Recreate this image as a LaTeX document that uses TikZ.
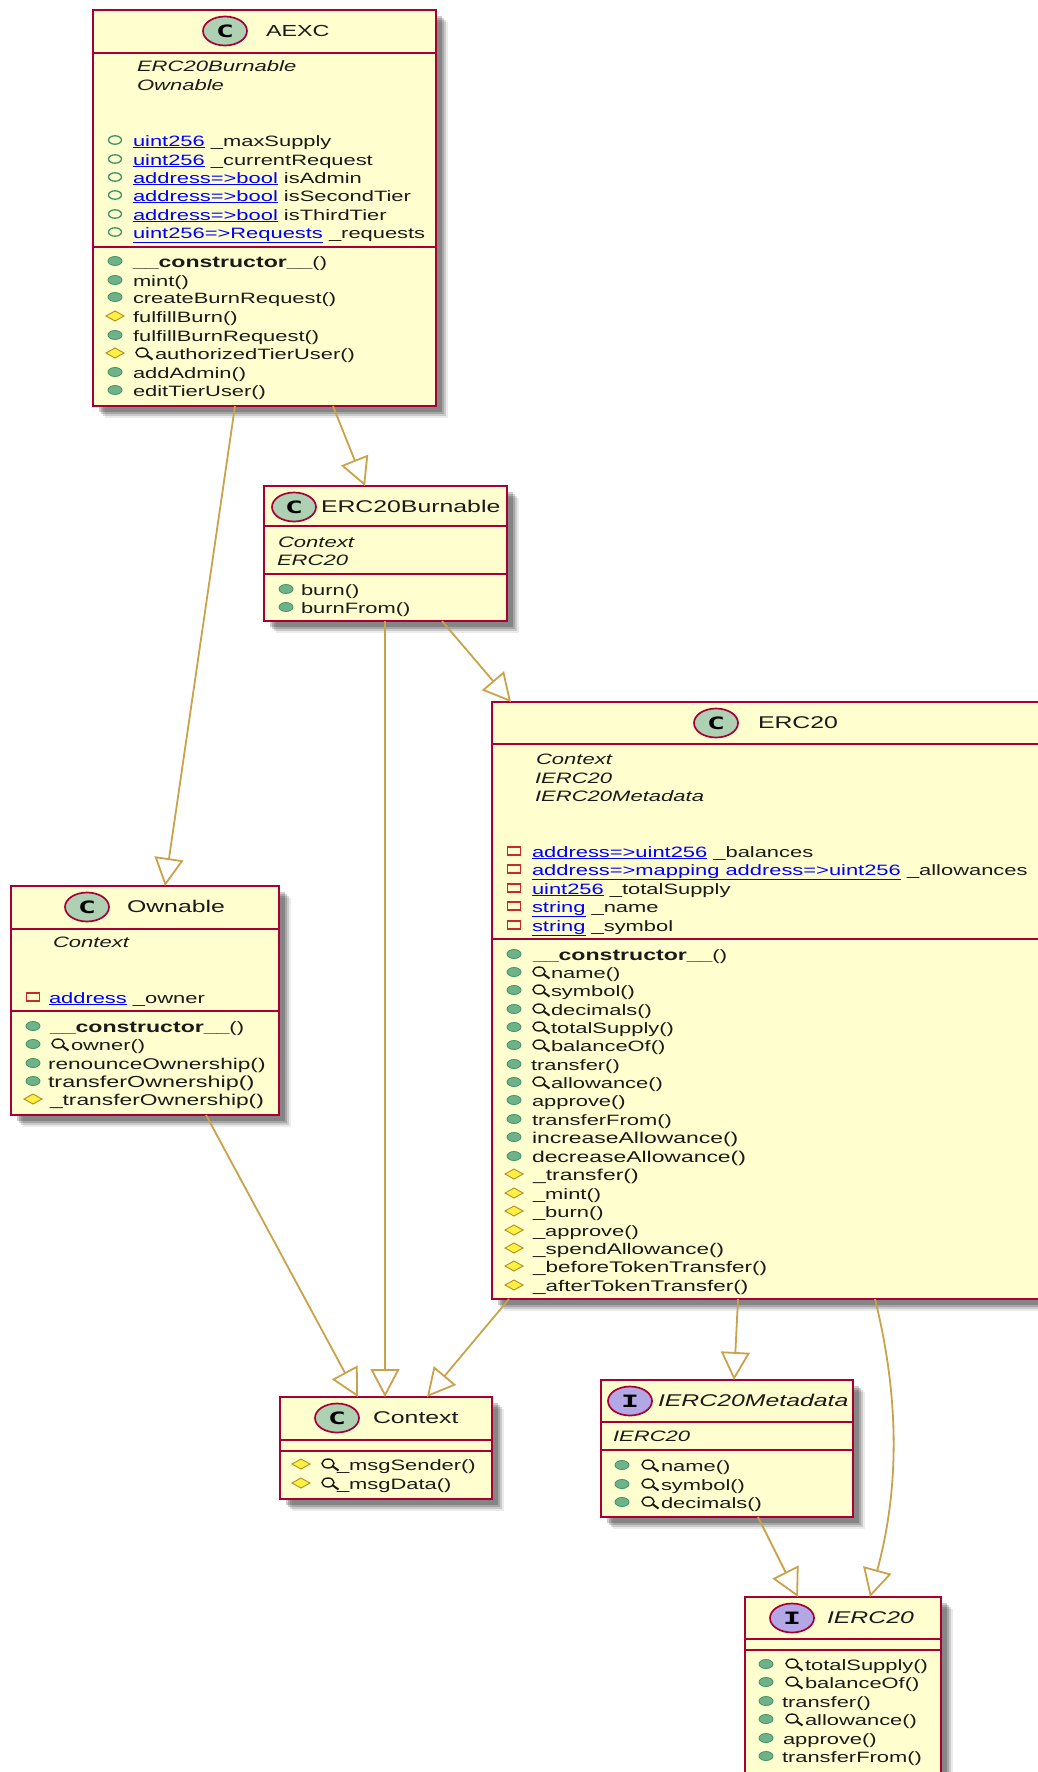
\documentclass[tikz,border=0pt]{standalone}
\usepackage{fontspec}
\setmainfont[FakeStretch=1.46]{Liberation Sans}
\newfontfamily\spotfont[FakeStretch=1.75]{DejaVu Sans Mono}
\usetikzlibrary{arrows.meta,shapes.geometric,shadows}
\definecolor{boxfill}{HTML}{FEFECE}
\definecolor{boxline}{HTML}{A80036}
\definecolor{conn}{HTML}{C9A24A}
\definecolor{spotc}{HTML}{ADD1B2}
\definecolor{spoti}{HTML}{B4A7E5}
\definecolor{pubf}{HTML}{6FB28A}
\definecolor{pubd}{HTML}{3C9468}
\definecolor{privd}{HTML}{C82930}
\definecolor{protf}{HTML}{FFF044}
\definecolor{protd}{HTML}{B38D22}
\definecolor{lnk}{HTML}{0000FF}
\definecolor{ink}{HTML}{1A1A1A}
\newcounter{tn}
\tikzset{
  classbox/.style={rectangle,draw=boxline,fill=boxfill,line width=2.6pt,inner sep=0,outer sep=0,anchor=north west,
    general shadow={shadow xshift=12pt,shadow yshift=-12pt,fill=black,opacity=.08},
    general shadow={shadow xshift=10pt,shadow yshift=-10pt,fill=black,opacity=.14},
    general shadow={shadow xshift=8pt,shadow yshift=-8pt,fill=black,opacity=.18},
    general shadow={shadow xshift=6pt,shadow yshift=-6pt,fill=black,opacity=.2}},
  divider/.style={draw=boxline,line width=1.9pt},
  txt/.style={anchor=base west,inner sep=0,outer sep=0,text=ink,font=\fontsize{15}{18}\selectfont},
  ititle/.style={txt,font=\fontsize{17}{18}\selectfont\itshape},
  ttl/.style={txt,font=\fontsize{17}{18}\selectfont},
  itl/.style={txt,font=\fontsize{15.1}{18}\selectfont\itshape},
  spot/.style={ellipse,draw=boxline,line width=1.7pt,minimum width=44pt,minimum height=29pt,inner sep=0,outer sep=0,text=black,font=\fontsize{17}{17}\spotfont\bfseries},
  inh/.style={draw=conn,line width=1.8pt,-{Triangle[length=28pt,width=29pt,fill=white,line width=1.8pt]}},
}
\newcommand{\mT}[4][txt]{\stepcounter{tn}\node[#1] (t\thetn) at (#2,#3+5) {#4};}
\newcommand{\lk}[1]{{\color{lnk}\underline{#1}}}
\newcommand{\bd}[1]{{\fontsize{15.8}{18}\selectfont\bfseries #1}}
\newcommand{\fz}[2]{{\fontsize{#1}{18}\selectfont #2}}
\newcommand{\ipub}[2]{\draw[draw=pubd,fill=pubf,line width=.8pt] (#1,#2-1) ellipse [x radius=7,y radius=4.5];}
\newcommand{\ifld}[2]{\draw[draw=pubd,fill=boxfill,line width=1.3pt] (#1,#2-1) ellipse [x radius=6.5,y radius=4.2];}
\newcommand{\ipriv}[2]{\draw[draw=privd,fill=boxfill,line width=1.3pt] (#1-6.5,#2-5) rectangle (#1+6.5,#2+3);}
\newcommand{\iprot}[2]{\draw[draw=protd,fill=protf,line width=.9pt] (#1-9,#2-1) -- (#1,#2-6) -- (#1+9,#2-1) -- (#1,#2+4) -- cycle;}
\newcommand{\imag}[2]{\draw[draw=ink,line width=1.4pt] (#1-2,#2-1.5) ellipse [x radius=6,y radius=4.5];\draw[draw=ink,line width=2pt] (#1+3,#2+1.5) -- (#1+8.5,#2+5.5);}
\newcommand{\mM}[4]{\ipub{#1}{#3}\mT{#2}{#3}{#4}}
\newcommand{\mQ}[5]{\ipub{#1}{#4}\imag{#2}{#4}\mT{#3}{#4}{#5}}
\newcommand{\mP}[4]{\iprot{#1}{#3}\mT{#2}{#3}{#4}}
\newcommand{\mPq}[5]{\iprot{#1}{#4}\imag{#2}{#4}\mT{#3}{#4}{#5}}
\newcommand{\mF}[4]{\ifld{#1}{#3}\mT{#2}{#3}{#4}}
\newcommand{\mR}[4]{\ipriv{#1}{#3}\mT{#2}{#3}{#4}}
\newcommand{\mDiv}[2]{\draw[divider] (#1.west |- 0,#2) -- (#1.east |- 0,#2);}
\begin{document}
\begin{tikzpicture}[x=1pt,y=-1pt]
\useasboundingbox (0,0) rectangle (1038,1772);
% ---------- AEXC
\node[classbox,minimum width=343pt,minimum height=396pt] (aexc) at (93,10) {};
\mDiv{aexc}{53}\mDiv{aexc}{247}
\node[spot,fill=spotc] (aexcs) at (225,31) {C};
\mT[ttl]{266}{31}{\fontsize{16}{18}\selectfont AEXC}
\mT[itl]{137}{66}{ERC20Burnable}
\mT[itl]{137}{85}{Ownable}
\mF{115}{133}{141}{\lk{uint256} \_maxSupply}
\mF{115}{133}{160}{\lk{uint256} \_currentRequest}
\mF{115}{133}{178}{\lk{address=>bool} isAdmin}
\mF{115}{133}{196}{\lk{address=>bool} isSecondTier}
\mF{115}{133}{215}{\lk{address=>bool} isThirdTier}
\mF{115}{133}{233}{\lk{uint256=>Requests} \_requests}
\mM{115}{133}{262}{\bd{\_\_constructor\_\_}()}
\mM{115}{133}{281}{mint()}
\mM{115}{133}{298}{createBurnRequest()}
\mP{115}{133}{317}{fulfillBurn()}
\mM{115}{133}{336}{fulfillBurnRequest()}
\mPq{115}{144}{155}{354}{authorizedTierUser()}
\mM{115}{133}{373}{addAdmin()}
\mM{115}{133}{391}{editTierUser()}
% ---------- ERC20Burnable
\node[classbox,minimum width=243pt,minimum height=135pt] (burn) at (264,486) {};
\mDiv{burn}{526}\mDiv{burn}{574}
\node[spot,fill=spotc] (burns) at (294,507) {C};
\mT[ttl]{321}{507}{ERC20Burnable}
\mT[itl]{278}{542}{Context}
\mT[itl]{277}{560}{ERC20}
\mM{286}{301}{590}{burn()}
\mM{286}{301}{608}{burnFrom()}
% ---------- ERC20
\node[classbox,minimum width=550pt,minimum height=597pt] (erc) at (492,702) {};
\mDiv{erc}{744}\mDiv{erc}{939}
\node[spot,fill=spotc] (ercs) at (716,723) {C};
\mT[ttl]{758}{723}{ERC20}
\mT[itl]{536}{759}{Context}
\mT[itl]{535}{778}{IERC20}
\mT[itl]{535}{796}{IERC20Metadata}
\mR{514}{532}{852}{\lk{address=>uint256} \_balances}
\mR{514}{532}{870}{\lk{address=>mapping address=>uint256} \_allowances}
\mR{514}{532}{889}{\lk{uint256} \_totalSupply}
\mR{514}{532}{907}{\lk{string} \_name}
\mR{514}{532}{926}{\lk{string} \_symbol}
\mM{514}{533}{955}{\bd{\_\_constructor\_\_}()}
\mQ{514}{541}{551}{973}{name()}
\mQ{514}{541}{551}{991}{symbol()}
\mQ{514}{541}{551}{1010}{decimals()}
\mQ{514}{541}{551}{1028}{totalSupply()}
\mQ{514}{541}{551}{1046}{balanceOf()}
\mM{514}{531}{1065}{transfer()}
\mQ{514}{541}{551}{1083}{allowance()}
\mM{514}{532}{1101}{approve()}
\mM{514}{532}{1120}{transferFrom()}
\mM{514}{532}{1138}{\fz{15.7}{increaseAllowance()}}
\mM{514}{532}{1157}{\fz{15.7}{decreaseAllowance()}}
\mP{514}{533}{1175}{\fz{15.7}{\_transfer()}}
\mP{514}{533}{1194}{\_mint()}
\mP{514}{533}{1212}{\_burn()}
\mP{514}{533}{1231}{\_approve()}
\mP{514}{533}{1249}{\fz{15.4}{\_spendAllowance()}}
\mP{514}{533}{1267}{\fz{15.4}{\_beforeTokenTransfer()}}
\mP{514}{533}{1286}{\fz{15.4}{\_afterTokenTransfer()}}
% ---------- Ownable
\node[classbox,minimum width=268pt,minimum height=229pt] (own) at (11,886) {};
\mDiv{own}{929}\mDiv{own}{1011}
\node[spot,fill=spotc] (owns) at (87,907) {C};
\mT[ttl]{127}{907}{Ownable}
\mT[itl]{53}{942}{Context}
\mR{33}{49}{998}{\lk{address} \_owner}
\mM{33}{50}{1027}{\bd{\_\_constructor\_\_}()}
\mQ{33}{60}{71}{1045}{owner()}
\mM{33}{48}{1064}{\fz{15.5}{renounceOwnership()}}
\mM{33}{48}{1082}{\fz{16}{transferOwnership()}}
\mP{33}{50}{1100}{\fz{15.6}{\_transferOwnership()}}
% ---------- Context
\node[classbox,minimum width=212pt,minimum height=102pt] (ctx) at (280,1397) {};
\mDiv{ctx}{1440}\mDiv{ctx}{1451}
\node[spot,fill=spotc] (ctxs) at (337,1418) {C};
\mT[ttl]{373}{1418}{Context}
\mPq{301}{330}{337}{1465}{\_msgSender()}
\mPq{301}{330}{337}{1484}{\_msgData()}
% ---------- IERC20Metadata
\node[classbox,minimum width=252pt,minimum height=137pt] (meta) at (601,1380) {};
\mDiv{meta}{1422}\mDiv{meta}{1450}
\node[spot,fill=spoti] (metas) at (630,1401) {I};
\mT[ititle]{658}{1401}{IERC20Metadata}
\mT[itl]{613}{1436}{IERC20}
\mQ{622}{650}{661}{1466}{name()}
\mQ{622}{650}{661}{1485}{symbol()}
\mQ{622}{650}{661}{1503}{decimals()}
% ---------- IERC20
\node[classbox,minimum width=196pt,minimum height=180pt] (ierc) at (745,1597) {};
\mDiv{ierc}{1639}\mDiv{ierc}{1650}
\node[spot,fill=spoti] (iercs) at (792,1618) {I};
\mT[ititle]{827}{1618}{IERC20}
\mQ{766}{794}{805}{1665}{totalSupply()}
\mQ{766}{794}{805}{1683}{balanceOf()}
\mM{766}{782}{1702}{transfer()}
\mQ{766}{794}{805}{1720}{allowance()}
\mM{766}{783}{1739}{approve()}
\mM{766}{782}{1757}{transferFrom()}
% ---------- connectors
\draw[inh] ([xshift=142pt]aexc.south west) -- ([xshift=154pt]own.north west);
\draw[inh] ([xshift=240pt]aexc.south west) -- ([xshift=101pt]burn.north west);
\draw[inh] ([xshift=178pt]burn.south west) -- ([xshift=19pt]erc.north west);
\draw[inh] ([xshift=121pt]burn.south west) -- ([xshift=105pt]ctx.north west);
\draw[inh] ([xshift=195pt]own.south west) -- ([xshift=78pt]ctx.north west);
\draw[inh] ([xshift=17pt]erc.south west) -- ([xshift=147pt]ctx.north west);
\draw[inh] ([xshift=246pt]erc.south west) -- ([xshift=133pt]meta.north west);
\draw[inh] ([xshift=383pt]erc.south west) .. controls (900,1400) and (899,1490) .. ([xshift=125pt]ierc.north west);
\draw[inh] ([xshift=157pt]meta.south west) -- ([xshift=53pt]ierc.north west);
\end{tikzpicture}
\end{document}
